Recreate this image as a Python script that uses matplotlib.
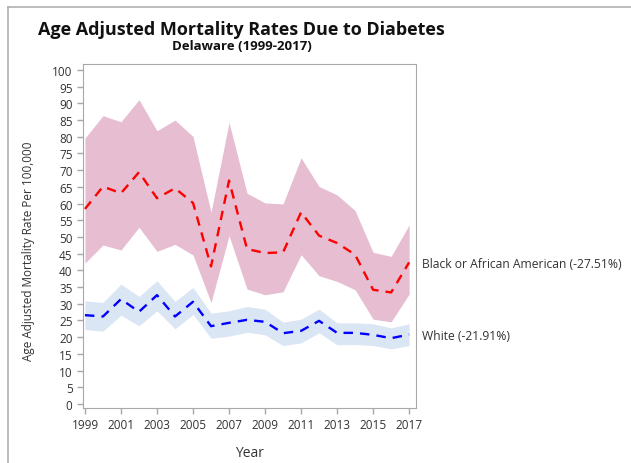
import matplotlib.pyplot as plt
from matplotlib.lines import Line2D

plt.rcParams['font.family'] = ['Open Sans', 'DejaVu Sans']

years = list(range(1999, 2018))

# Black or African American: rate and 95% confidence band
black_rate = [58.4, 65.1, 63.1, 69.4, 61.6, 64.6, 60.2, 41.2, 66.9, 46.4,
              45.2, 45.4, 57.4, 50.4, 48.2, 44.7, 34.2, 33.4, 42.4]
black_upper = [79.6, 86.3, 84.5, 91.1, 81.8, 85.0, 80.1, 57.4, 84.3, 63.1,
               60.2, 59.9, 73.7, 65.1, 62.6, 57.9, 45.4, 44.2, 53.6]
black_lower = [42.2, 47.6, 46.1, 52.9, 45.7, 47.8, 44.6, 30.4, 50.4, 34.4,
               32.7, 33.6, 44.7, 38.4, 36.7, 34.2, 25.4, 24.6, 32.9]

# White: rate and 95% confidence band
white_rate = [26.6, 26.2, 31.4, 27.6, 32.6, 26.2, 30.6, 23.3, 24.3, 25.2,
              24.6, 21.2, 21.9, 24.9, 21.3, 21.3, 20.7, 19.7, 20.8]
white_upper = [30.9, 30.4, 35.9, 32.2, 36.9, 30.7, 34.9, 27.2, 27.9, 29.2,
               28.4, 24.5, 25.4, 28.4, 24.3, 24.3, 24.0, 22.8, 24.0]
white_lower = [22.3, 21.8, 26.6, 23.4, 27.9, 22.5, 26.8, 19.7, 20.3, 21.5,
               20.7, 17.5, 18.3, 21.3, 17.7, 17.8, 17.5, 16.5, 17.5]

black_label = "Black or African American (-27.51%)"
white_label = "White (-21.91%)"

fig = plt.figure(figsize=(6.31, 4.64), dpi=100)
ax = fig.add_axes([0.1315, 0.1185, 0.528, 0.7415])

ax.fill_between(years, black_lower, black_upper, color='#e6bdd1', linewidth=0)
ax.fill_between(years, white_lower, white_upper, color='#dbe6f4', linewidth=0)
ax.plot(years, black_rate, color='#ff0000', linestyle=(0, (4, 3)), linewidth=1.7)
ax.plot(years, white_rate, color='#0000ff', linestyle=(0, (4, 3)), linewidth=1.7)

ax.set_xlim(1998.89, 2017.39)
ax.set_ylim(-1.2, 101.8)
ax.set_xticks(years[::2])
ax.set_yticks(range(0, 101, 5))

for side in ax.spines.values():
    side.set_color('#a8a8a8')
ax.tick_params(colors='#a8a8a8', labelcolor='#333333', labelsize=8.5,
               length=4, width=1)

ax.set_xlabel("Year", fontsize=10, color='#333333', labelpad=10)
ax.set_ylabel("Age Adjusted Mortality Rate Per 100,000", fontsize=8.5,
              color='#333333')
ax.yaxis.set_label_coords(-0.145, 0.46)

# series labels at the last year's value
ax.annotate(black_label, (years[-1], black_rate[-1]), xytext=(9.5, -1),
            textcoords='offset points', va='center', fontsize=8.7,
            color='#333333', annotation_clip=False)
ax.annotate(white_label, (years[-1], white_rate[-1]), xytext=(9.5, -1),
            textcoords='offset points', va='center', fontsize=8.7,
            color='#333333', annotation_clip=False)

fig.text(241 / 631, 1 - 30 / 464, "Age Adjusted Mortality Rates Due to Diabetes",
         ha='center', va='center', fontsize=13, fontweight='bold',
         color='#111111')
fig.text(242 / 631, 1 - 47 / 464, "Delaware (1999-2017)", ha='center',
         va='center', fontsize=9.5, fontweight='bold', color='#111111')

# page frame along the top and left edges
fig.add_artist(Line2D([7.5 / 631, 7.5 / 631], [0, 1 - 8 / 464],
                      transform=fig.transFigure, color='#b0b0b0', linewidth=1.2))
fig.add_artist(Line2D([7.5 / 631, 1], [1 - 8 / 464, 1 - 8 / 464],
                      transform=fig.transFigure, color='#b0b0b0', linewidth=1.2))

fig.savefig('out.png', dpi=100)
